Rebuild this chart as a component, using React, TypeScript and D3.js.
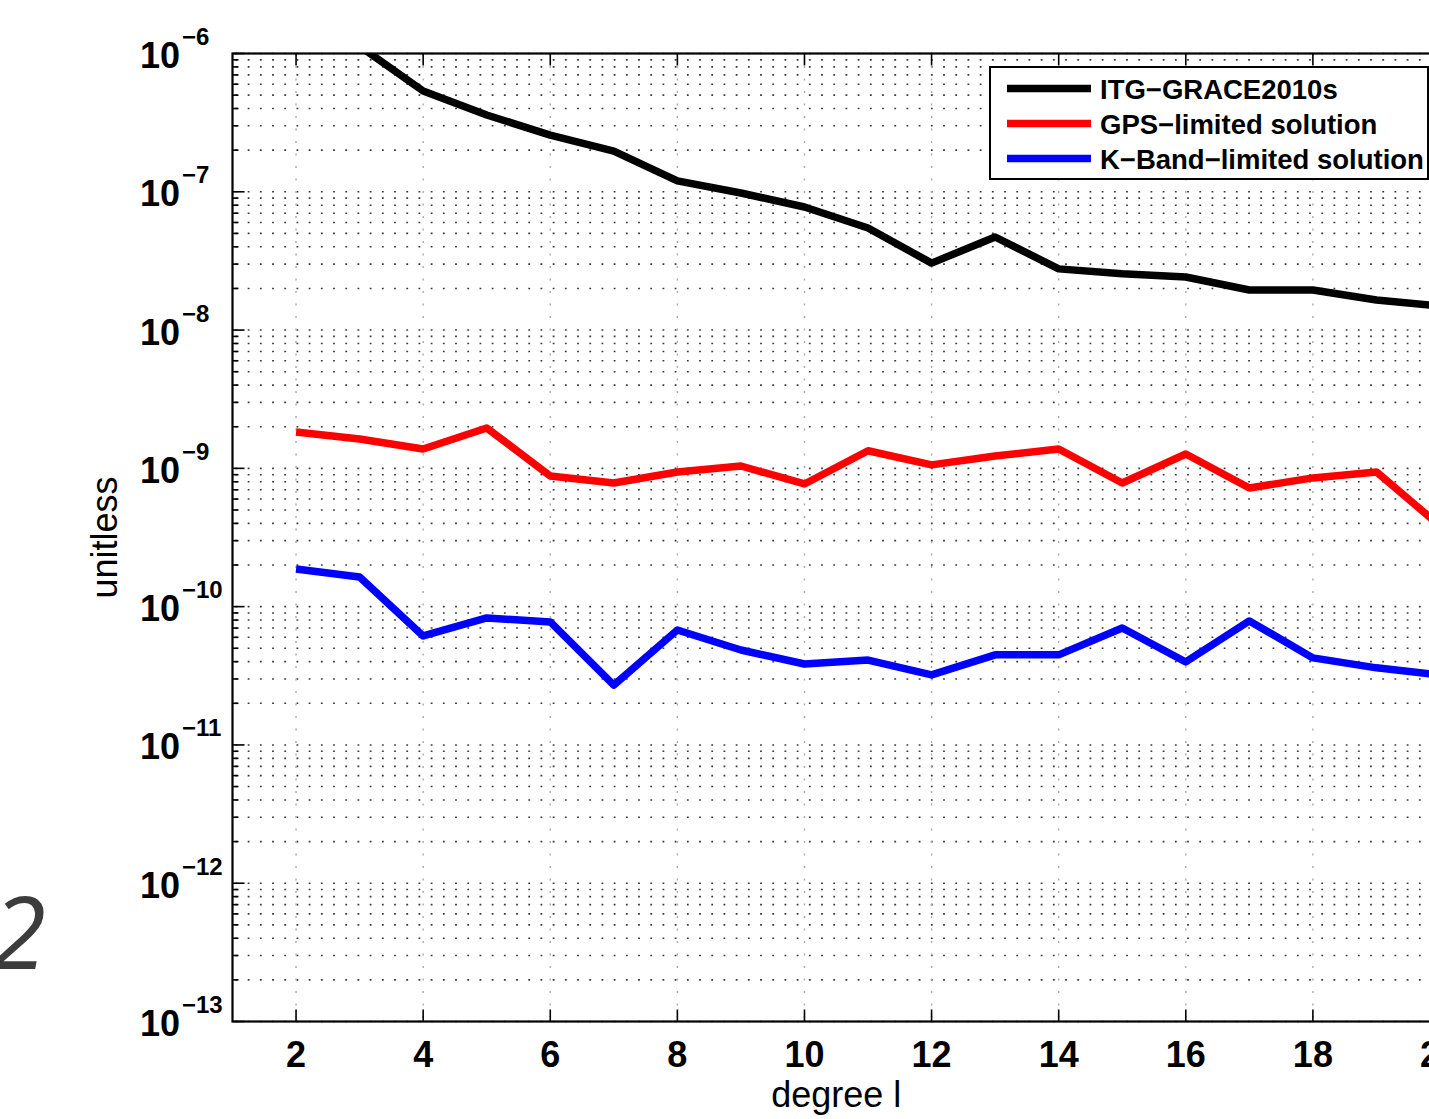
import React from "react";
import * as d3 from "d3";

const degrees = [2, 3, 4, 5, 6, 7, 8, 9, 10, 11, 12, 13, 14, 15, 16, 17, 18, 19, 20];
const itgGrace = [2.2e-6, 1.13e-6, 5.36e-7, 3.59e-7, 2.57e-7, 1.97e-7, 1.2e-7, 9.8e-8, 7.76e-8, 5.47e-8, 3.05e-8, 4.71e-8, 2.77e-8, 2.55e-8, 2.42e-8, 1.95e-8, 1.95e-8, 1.65e-8, 1.49e-8];
const gpsLimited = [1.83e-9, 1.63e-9, 1.38e-9, 1.96e-9, 8.81e-10, 7.84e-10, 9.42e-10, 1.04e-9, 7.71e-10, 1.34e-9, 1.06e-9, 1.23e-9, 1.38e-9, 7.84e-10, 1.27e-9, 7.21e-10, 8.53e-10, 9.42e-10, 3.84e-10];
const kbandLimited = [1.87e-10, 1.64e-10, 6.14e-11, 8.28e-11, 7.75e-11, 2.71e-11, 6.78e-11, 4.86e-11, 3.85e-11, 4.11e-11, 3.21e-11, 4.48e-11, 4.48e-11, 7.01e-11, 3.98e-11, 7.88e-11, 4.26e-11, 3.61e-11, 3.21e-11];

const xTicks = [2, 4, 6, 8, 10, 12, 14, 16, 18, 20];
const yExponents = [-6, -7, -8, -9, -10, -11, -12, -13];

const seriesNames = ["ITG\u2212GRACE2010s", "GPS\u2212limited solution", "K\u2212Band\u2212limited solution"];
const seriesColors = ["#000000", "#ff0000", "#0000ff"];
const seriesData = [itgGrace, gpsLimited, kbandLimited];

const W = 1429;
const H = 1119;
const L = 232.5;
const R = 1440;
const T = 53.5;
const B = 1021.5;

export default function App() {
  const x = d3.scaleLinear().domain([1, 20]).range([L, R]);
  const y = d3.scaleLog().domain([1e-13, 1e-6]).range([B, T]);

  const minorVals: number[] = [];
  for (let k = -13; k < -6; k++) {
    for (let m = 1; m <= 9; m++) {
      minorVals.push(m * Math.pow(10, k));
    }
  }
  minorVals.push(1e-6);

  const line = d3
    .line<number>()
    .x((_, i) => x(degrees[i]))
    .y((d) => y(d));

  const font = "'Liberation Sans', Arial, Helvetica, sans-serif";

  return (
    <svg width={W} height={H} style={{ position: "absolute", left: 0, top: 0, background: "#fff" }} fontFamily={font}>
      <defs>
        <clipPath id="plotClip">
          <rect x={L} y={T} width={R - L} height={B - T} />
        </clipPath>
      </defs>
      <rect x={0} y={0} width={W} height={H} fill="#fff" />

      {/* big page number */}
      <text x={46} y={969} textAnchor="end" fontFamily="'Open Sans', sans-serif" fontStyle="italic" fontSize={100} fill="#3c3c3c">
        2
      </text>

      {/* horizontal grid */}
      {minorVals.map((v, i) => (
        <line key={"hg" + i} x1={L + 3} x2={R} y1={y(v)} y2={y(v)} stroke="#3a3a3a" strokeWidth={1.6} strokeDasharray="1.8 10.4" />
      ))}
      {/* vertical grid */}
      {xTicks.map((t) => (
        <line key={"vg" + t} x1={x(t)} x2={x(t)} y1={T} y2={B} stroke="#aaaaaa" strokeWidth={1.4} strokeDasharray="2 10.5" />
      ))}

      {/* left axis ticks */}
      {minorVals.map((v, i) => {
        const major = Math.abs(Math.log10(v) - Math.round(Math.log10(v))) < 1e-9;
        return <line key={"lt" + i} x1={L} x2={L + (major ? 12 : 6)} y1={y(v)} y2={y(v)} stroke="#000" strokeWidth={1.6} />;
      })}
      {/* bottom/top ticks */}
      {xTicks.map((t) => (
        <g key={"xt" + t}>
          <line x1={x(t)} x2={x(t)} y1={B} y2={B - 12} stroke="#000" strokeWidth={1.6} />
          <line x1={x(t)} x2={x(t)} y1={T} y2={T + 12} stroke="#000" strokeWidth={1.6} />
        </g>
      ))}

      {/* data lines */}
      <g clipPath="url(#plotClip)">
        {seriesData.map((s, i) => (
          <path key={"s" + i} d={line(s) || ""} fill="none" stroke={seriesColors[i]} strokeWidth={7.5} strokeLinejoin="round" strokeLinecap="butt" />
        ))}
      </g>

      {/* axes box */}
      <rect x={L} y={T} width={R - L} height={B - T} fill="none" stroke="#000" strokeWidth={2.2} />

      {/* y tick labels */}
      {yExponents.map((e) => {
        const yy = y(Math.pow(10, e));
        return (
          <g key={"yl" + e}>
            <text x={140} y={yy + 14.5} fontSize={36} fontWeight="bold" fill="#000">
              10
            </text>
            <text x={182} y={yy - 8.5} fontSize={24} fontWeight="bold" fill="#000">
              {"\u2212" + Math.abs(e)}
            </text>
          </g>
        );
      })}

      {/* x tick labels */}
      {xTicks.map((t) => (
        <text key={"xl" + t} x={x(t)} y={1067} textAnchor="middle" fontSize={36} fontWeight="bold" fill="#000">
          {t}
        </text>
      ))}

      {/* axis labels */}
      <text x={(L + R) / 2} y={1107} textAnchor="middle" fontSize={36} fill="#000">
        degree l
      </text>
      <text transform={`translate(117, ${(T + B) / 2}) rotate(-90)`} textAnchor="middle" fontSize={36} fill="#000">
        unitless
      </text>

      {/* legend */}
      <g>
        <rect x={990} y={67} width={438} height={112} fill="#fff" stroke="#000" strokeWidth={2} />
        {seriesNames.map((n, i) => {
          const ly = 88.5 + i * 35;
          return (
            <g key={"lg" + i}>
              <line x1={1007} x2={1091} y1={ly} y2={ly} stroke={seriesColors[i]} strokeWidth={7.5} />
              <text x={1100} y={ly + 10} fontSize={27.5} fontWeight="bold" fill="#000">
                {n}
              </text>
            </g>
          );
        })}
      </g>
    </svg>
  );
}
